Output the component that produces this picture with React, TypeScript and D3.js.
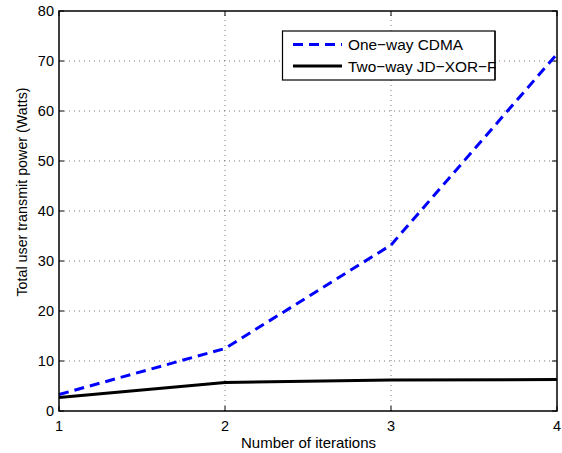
import React, { useEffect, useRef } from 'react';
import * as d3 from 'd3';

const iterations = [1, 2, 3, 4];
const oneWayCdma = [3.3, 12.5, 33.2, 71.4];
const twoWayJdXor = [2.7, 5.7, 6.2, 6.3];
const xTicks = [1, 2, 3, 4];
const yTicks = [0, 10, 20, 30, 40, 50, 60, 70, 80];

const App: React.FC = () => {
  const svgRef = useRef<SVGSVGElement>(null);

  useEffect(() => {
    if (!svgRef.current) return;
    const svg = d3.select(svgRef.current);
    svg.selectAll('*').remove();

    const margin = { top: 11, right: 5, bottom: 42, left: 59 };
    const width = 562;
    const height = 453;
    const font = 'Liberation Sans, Arial, sans-serif';

    const x = d3.scaleLinear().domain([1, 4]).range([margin.left, width - margin.right]);
    const y = d3.scaleLinear().domain([0, 80]).range([height - margin.bottom, margin.top]);

    const g = svg.append('g');

    // dotted grid
    g.selectAll('.gx')
      .data(xTicks.slice(1, -1))
      .enter().append('line')
      .attr('x1', d => x(d)).attr('x2', d => x(d))
      .attr('y1', y(0)).attr('y2', y(80))
      .attr('stroke', '#777').attr('stroke-width', 1)
      .attr('stroke-dasharray', '1,4');
    g.selectAll('.gy')
      .data(yTicks.slice(1, -1))
      .enter().append('line')
      .attr('x1', x(1)).attr('x2', x(4))
      .attr('y1', d => y(d)).attr('y2', d => y(d))
      .attr('stroke', '#777').attr('stroke-width', 1)
      .attr('stroke-dasharray', '1,4');

    // tick marks inside on all four sides
    const tl = 5;
    xTicks.forEach(t => {
      g.append('line').attr('x1', x(t)).attr('x2', x(t)).attr('y1', y(0)).attr('y2', y(0) - tl).attr('stroke', '#000');
      g.append('line').attr('x1', x(t)).attr('x2', x(t)).attr('y1', y(80)).attr('y2', y(80) + tl).attr('stroke', '#000');
    });
    yTicks.forEach(t => {
      g.append('line').attr('x1', x(1)).attr('x2', x(1) + tl).attr('y1', y(t)).attr('y2', y(t)).attr('stroke', '#000');
      g.append('line').attr('x1', x(4)).attr('x2', x(4) - tl).attr('y1', y(t)).attr('y2', y(t)).attr('stroke', '#000');
    });

    // tick labels
    g.selectAll('.xl')
      .data(xTicks)
      .enter().append('text')
      .attr('x', d => x(d)).attr('y', y(0) + 20)
      .attr('text-anchor', 'middle')
      .attr('font-family', font).attr('font-size', 14.5)
      .text(d => d);
    g.selectAll('.yl')
      .data(yTicks)
      .enter().append('text')
      .attr('x', x(1) - 5).attr('y', d => y(d) + 5)
      .attr('text-anchor', 'end')
      .attr('font-family', font).attr('font-size', 14.5)
      .text(d => d);

    // axis labels
    g.append('text')
      .attr('x', 308.5).attr('y', 448)
      .attr('text-anchor', 'middle')
      .attr('font-family', font).attr('font-size', 15)
      .text('Number of iterations');
    g.append('text')
      .attr('transform', `translate(27,192) rotate(-90)`)
      .attr('text-anchor', 'middle')
      .attr('font-family', font).attr('font-size', 14.3)
      .text('Total user transmit power (Watts)');

    // lines
    const line = d3.line<number>()
      .x((_, i) => x(iterations[i]))
      .y(d => y(d));

    g.append('path')
      .datum(twoWayJdXor)
      .attr('d', line)
      .attr('fill', 'none')
      .attr('stroke', '#000')
      .attr('stroke-width', 3);
    g.append('path')
      .datum(oneWayCdma)
      .attr('d', line)
      .attr('fill', 'none')
      .attr('stroke', '#0000ff')
      .attr('stroke-width', 3)
      .attr('stroke-dasharray', '10,6');

    // frame
    g.append('rect')
      .attr('x', x(1)).attr('y', y(80))
      .attr('width', x(4) - x(1)).attr('height', y(0) - y(80))
      .attr('fill', 'none').attr('stroke', '#000').attr('stroke-width', 1.5);

    // legend
    const lg = g.append('g');
    lg.append('rect')
      .attr('x', 282.5).attr('y', 31)
      .attr('width', 212.5).attr('height', 49)
      .attr('fill', '#fff').attr('stroke', '#000').attr('stroke-width', 1.2);
    const entries = [
      { label: 'One\u2212way CDMA', color: '#0000ff', dash: '10,6', yy: 44.5 },
      { label: 'Two\u2212way JD\u2212XOR\u2212F', color: '#000', dash: null, yy: 66 },
    ];
    entries.forEach(e => {
      const l = lg.append('line')
        .attr('x1', 293).attr('x2', 342)
        .attr('y1', e.yy).attr('y2', e.yy)
        .attr('stroke', e.color).attr('stroke-width', 3);
      if (e.dash) l.attr('stroke-dasharray', e.dash);
      lg.append('text')
        .attr('x', 348).attr('y', e.yy + 5.5)
        .attr('font-family', font).attr('font-size', 15.4)
        .text(e.label);
    });
    // legend border drawn over the overflowing text
    lg.append('line')
      .attr('x1', 495).attr('x2', 495).attr('y1', 31).attr('y2', 80)
      .attr('stroke', '#000').attr('stroke-width', 1.2);
  }, []);

  return (
    <svg
      ref={svgRef}
      width={562}
      height={453}
      style={{ position: 'absolute', left: 0, top: 0, background: '#fff' }}
    />
  );
};

export default App;
